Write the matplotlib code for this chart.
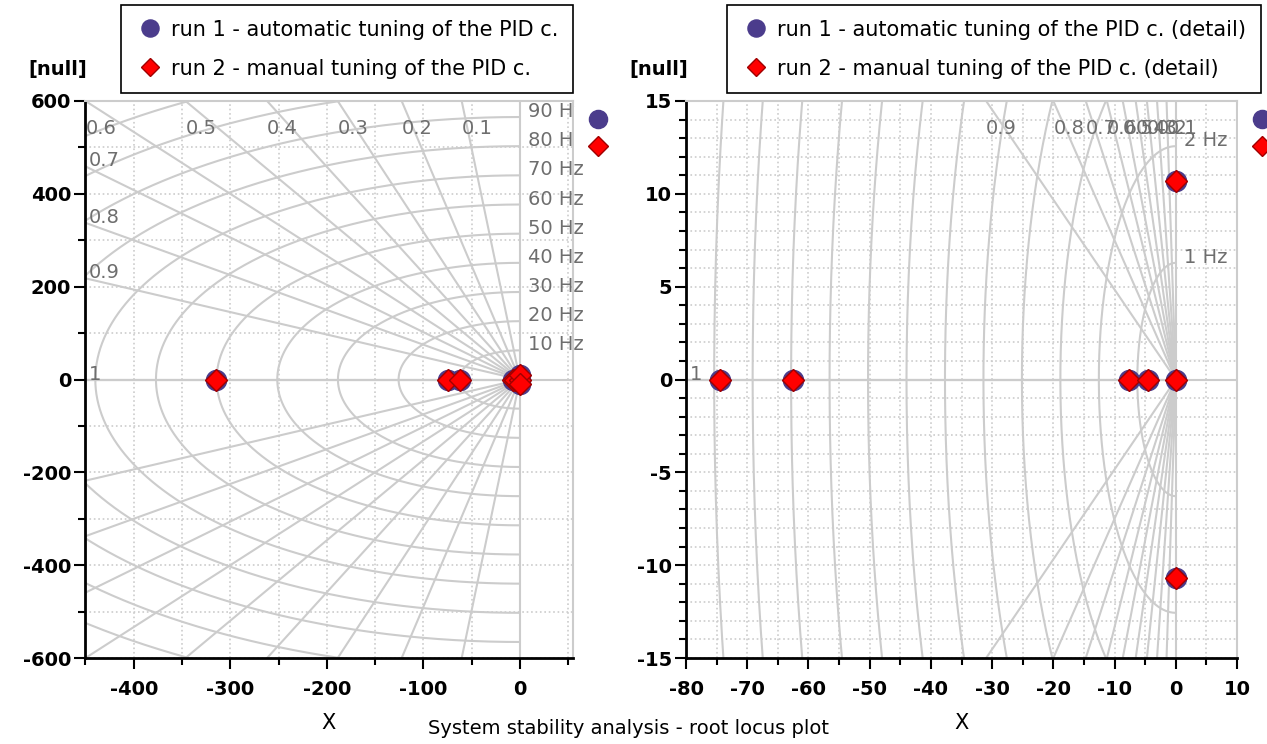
import numpy as np
import matplotlib.pyplot as plt
from matplotlib.ticker import MultipleLocator

plt.rcParams['font.family'] = ['DejaVu Sans']
plt.rcParams['axes.unicode_minus'] = False

# closed loop poles (real / imaginary part)
run1_re = [-315.0, -74.5, -62.5, -7.6, -4.6, 0.0, 0.0, 0.0]
run1_im = [0.0, 0.0, 0.0, 0.0, 0.0, 0.0, 10.7, -10.7]
run2_re = [-315.0, -74.5, -62.5, -7.6, -4.6, 0.0, 0.0, 0.0]
run2_im = [0.0, 0.0, 0.0, 0.0, 0.0, 0.0, 10.7, -10.7]

label1 = 'run 1 - automatic tuning of the PID c.'
label2 = 'run 2 - manual tuning of the PID c.'

# damping ratio and natural frequency grid
zetas = [0.1, 0.2, 0.3, 0.4, 0.5, 0.6, 0.7, 0.8, 0.9, 1.0]
freqs_main = [10, 20, 30, 40, 50, 60, 70, 80, 90, 100, 110, 120]
freqs_detail = [1, 2, 3, 4, 5, 6, 7, 8, 9, 10, 11, 12, 13]

GRID = '#cccccc'
GTXT = '#6e6e6e'
BLUE = '#4b3c8c'
RED = '#ff0000'


def sgrid(ax, xlim, ylim, freqs):
    R = 3 * np.hypot(xlim[0], ylim[1])
    th = np.linspace(np.pi / 2, 3 * np.pi / 2, 500)
    for f in freqs:
        w = 2 * np.pi * f
        ax.plot(w * np.cos(th), w * np.sin(th), color=GRID, lw=1.5, zorder=1)
        if w < ylim[1]:
            ax.annotate('%d Hz' % f, (0, w), xytext=(6, 0), textcoords='offset points',
                        color=GTXT, fontsize=14, va='baseline', ha='left',
                        annotation_clip=False, zorder=2)
    for z in zetas:
        s = np.sqrt(1 - z * z)
        ax.plot([0, -z * R], [0, s * R], color=GRID, lw=1.5, zorder=1)
        ax.plot([0, -z * R], [0, -s * R], color=GRID, lw=1.5, zorder=1)
        lbl = '%g' % z
        t_top = ylim[1] / s if s > 0 else np.inf
        t_left = -xlim[0] / z
        if t_top < t_left:
            ax.annotate(lbl, (-z * t_top, 0.9 * ylim[1]), color=GTXT, fontsize=14,
                        va='center', ha='left', annotation_clip=False, zorder=2)
        else:
            ax.annotate(lbl, (xlim[0], s * t_left), xytext=(3, 0), textcoords='offset points',
                        color=GTXT, fontsize=14, va='baseline', ha='left',
                        annotation_clip=False, zorder=2)
    ax.axvline(0, color=GRID, lw=1.5, zorder=1)
    ax.axhline(0, color=GRID, lw=1.5, zorder=1)


def setup(ax, xlim, ylim, xmaj, xmin, ymaj, ymin, freqs, suffix):
    sgrid(ax, xlim, ylim, freqs)
    h1, = ax.plot(run1_re, run1_im, ls='', marker='o', ms=14.5, mfc=BLUE, mec=BLUE,
                  label=label1 + suffix, zorder=4)
    h2, = ax.plot(run2_re, run2_im, ls='', marker='D', ms=11.2, mfc=RED, mec='#a00000',
                  mew=1, label=label2 + suffix, zorder=4)
    ax.set_xlim(xlim)
    ax.set_ylim(ylim)
    ax.xaxis.set_major_locator(MultipleLocator(xmaj))
    ax.xaxis.set_minor_locator(MultipleLocator(xmin))
    ax.yaxis.set_major_locator(MultipleLocator(ymaj))
    ax.yaxis.set_minor_locator(MultipleLocator(ymin))
    ax.grid(which='both', ls=':', color=GRID, lw=1.2, zorder=0)
    ax.tick_params(which='major', direction='out', length=8, width=1.5, labelsize=14)
    ax.tick_params(which='minor', direction='out', length=5, width=1.5)
    ax.tick_params(axis='x', which='major', pad=8)
    ax.tick_params(axis='y', which='major', pad=2)
    for t in ax.get_xticklabels() + ax.get_yticklabels():
        t.set_fontweight('bold')
    for side in ['left', 'bottom']:
        ax.spines[side].set_linewidth(2)
    for side in ['top', 'right']:
        ax.spines[side].set_color(GRID)
        ax.spines[side].set_linewidth(1.5)
    ax.set_xlabel('X', fontsize=15, labelpad=10)
    return h1, h2


fig = plt.figure(figsize=(12.67, 7.44), dpi=100)
ax1 = fig.add_axes([85 / 1267, 1 - 658 / 744, 488 / 1267, 557 / 744])
ax2 = fig.add_axes([686 / 1267, 1 - 658 / 744, 551 / 1267, 557 / 744])

hs1 = setup(ax1, (-450.5, 55), (-600, 600), 100, 50, 200, 100, freqs_main, '')
hs2 = setup(ax2, (-80, 10), (-15, 15), 10, 5, 5, 1, freqs_detail, ' (detail)')

for ax, hs, x0 in [(ax1, hs1, 121), (ax2, hs2, 727)]:
    leg = ax.legend(handles=list(hs), loc='upper left', bbox_to_anchor=(x0 / 1267, 1 - 5 / 744),
                    bbox_transform=fig.transFigure, fancybox=False, edgecolor='black',
                    framealpha=1, fontsize=15, borderaxespad=0, handletextpad=0.3,
                    labelspacing=0.92, borderpad=0.7, handlelength=1.4, markerscale=0.85)
    leg.get_frame().set_linewidth(1.2)
    ax.add_artist(leg)
    ax.legend(handles=list(hs), labels=['', ''], loc='upper left', bbox_to_anchor=(1.0, 0.997),
              frameon=True, facecolor='white', edgecolor='none', framealpha=1,
              handlelength=2.2, handletextpad=0, borderpad=0.6, labelspacing=1.0,
              borderaxespad=0.1, markerscale=0.9)
    fig.text(ax.get_position().x0 - 27 / 1267, 1 - 70 / 744, '[null]', ha='center',
             va='center', fontsize=14, fontweight='bold')

fig.text(628 / 1267, 1 - 728 / 744, 'System stability analysis - root locus plot',
         ha='center', va='center', fontsize=14)

fig.savefig('out.png', dpi=100)
